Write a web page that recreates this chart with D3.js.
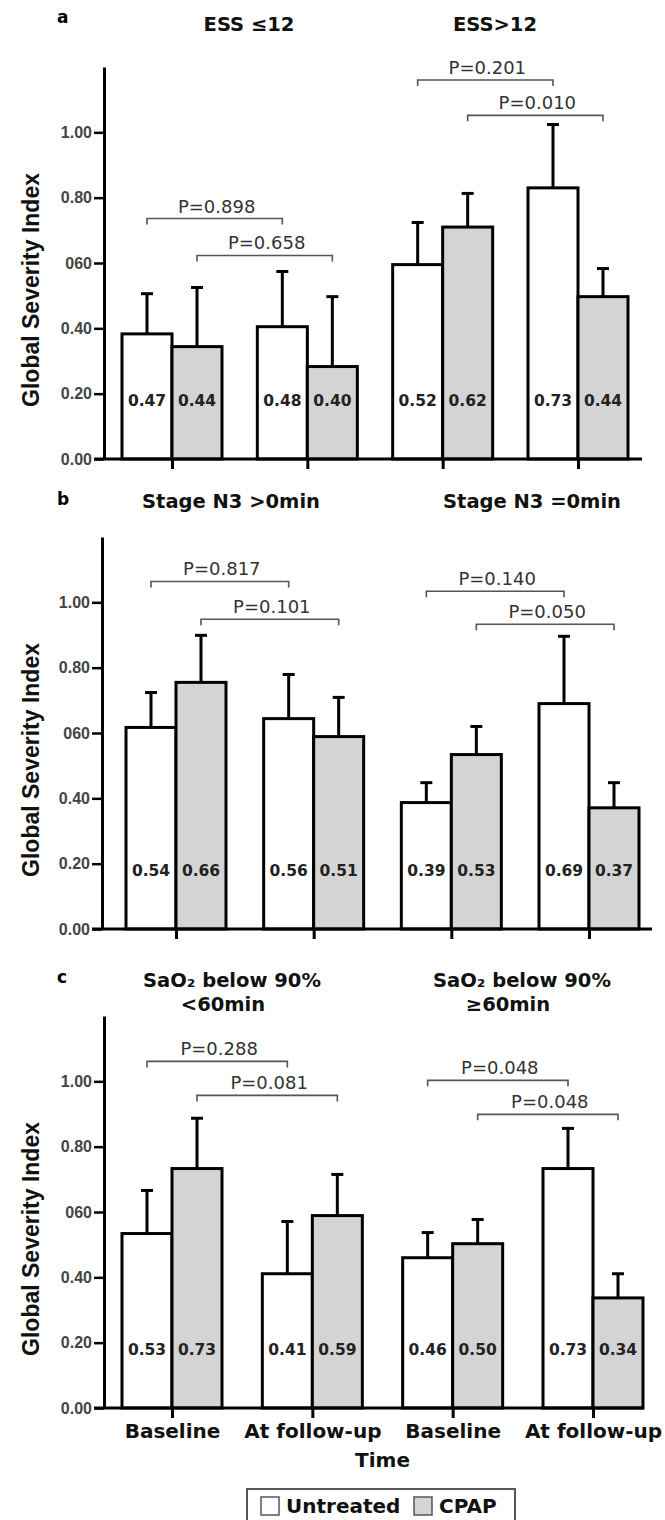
<!DOCTYPE html>
<html>
<head>
<meta charset="utf-8">
<script src="https://cdn.jsdelivr.net/npm/d3@7"></script>
<style>
  body { margin: 0; background: #fff; }
  svg { display: block; }
</style>
</head>
<body>
<svg id="chart" width="665" height="1520"></svg>
<script>
// ---- data ----
var groups = ["Baseline", "At follow-up", "Baseline", "At follow-up"];
var seriesNames = ["Untreated", "CPAP"];
var yTicks = [0, 0.2, 0.4, 0.6, 0.8, 1.0];
var yTickLabels = ["0.00", "0.20", "0.40", "060", "0.80", "1.00"];

// panel a: ESS
var titlesA = [["ESS \u226412"], ["ESS>12"]];
var untreatedA = [0.383, 0.405, 0.595, 0.830];
var untreatedErrA = [0.506, 0.574, 0.724, 1.024];
var cpapA = [0.344, 0.283, 0.710, 0.497];
var cpapErrA = [0.525, 0.497, 0.813, 0.583];
var untreatedLabelsA = ["0.47", "0.48", "0.52", "0.73"];
var cpapLabelsA = ["0.44", "0.40", "0.62", "0.44"];
var pValuesA = ["P=0.898", "P=0.658", "P=0.201", "P=0.010"];
var pLevelsA = [0.736, 0.623, 1.160, 1.052];

// panel b: stage N3
var titlesB = [["Stage N3 >0min"], ["Stage N3 =0min"]];
var untreatedB = [0.617, 0.644, 0.387, 0.690];
var untreatedErrB = [0.724, 0.779, 0.448, 0.896];
var cpapB = [0.755, 0.589, 0.534, 0.371];
var cpapErrB = [0.899, 0.709, 0.620, 0.448];
var untreatedLabelsB = ["0.54", "0.56", "0.39", "0.69"];
var cpapLabelsB = ["0.66", "0.51", "0.53", "0.37"];
var pValuesB = ["P=0.817", "P=0.101", "P=0.140", "P=0.050"];
var pLevelsB = [1.064, 0.948, 1.034, 0.933];

// panel c: SaO2 below 90%
var titlesC = [["SaO\u2082 below 90%", "<60min"], ["SaO\u2082 below 90%", "\u226560min"]];
var untreatedC = [0.534, 0.411, 0.460, 0.733];
var untreatedErrC = [0.666, 0.571, 0.537, 0.856];
var cpapC = [0.733, 0.589, 0.503, 0.337];
var cpapErrC = [0.887, 0.715, 0.577, 0.411];
var untreatedLabelsC = ["0.53", "0.41", "0.46", "0.73"];
var cpapLabelsC = ["0.73", "0.59", "0.50", "0.34"];
var pValuesC = ["P=0.288", "P=0.081", "P=0.048", "P=0.048"];
var pLevelsC = [1.061, 0.957, 1.003, 0.899];

// bracket i joins bar (group, series) -> (group, series)
var bracketEnds = [[[0, 0], [1, 0]], [[0, 1], [1, 1]], [[2, 0], [3, 0]], [[2, 1], [3, 1]]];

var panels = [
    { letter: "a", titles: titlesA, values: [untreatedA, cpapA], errors: [untreatedErrA, cpapErrA],
      labels: [untreatedLabelsA, cpapLabelsA], pValues: pValuesA, pLevels: pLevelsA },
    { letter: "b", titles: titlesB, values: [untreatedB, cpapB], errors: [untreatedErrB, cpapErrB],
      labels: [untreatedLabelsB, cpapLabelsB], pValues: pValuesB, pLevels: pLevelsB },
    { letter: "c", titles: titlesC, values: [untreatedC, cpapC], errors: [untreatedErrC, cpapErrC],
      labels: [untreatedLabelsC, cpapLabelsC], pValues: pValuesC, pLevels: pLevelsC }
];

// ---- layout ----
var layout = [
    { zeroY: 459, axisX: 104, xRange: [172, 578], axisEnd: 642, letterY: 23, titleY: 31,
      titleX: [[249], [495]] },
    { zeroY: 929, axisX: 102, xRange: [176, 589], axisEnd: 652, letterY: 505, titleY: 508,
      titleX: [[231], [532]] },
    { zeroY: 1408, axisX: 104, xRange: [172, 593], axisEnd: 644, letterY: 983, titleY: 987,
      titleX: [[232, 223], [522, 508]] }
];
var plotHeight = 392;
var barWidth = 50;
var fills = ["#ffffff", "#d4d4d4"];
var sans = "'Liberation Sans', Arial, sans-serif";
var wide = "'DejaVu Sans', Verdana, sans-serif";

var svg = d3.select("#chart");

panels.forEach(function (panel, pi) {
    var L = layout[pi];
    var g = svg.append("g");

    var y = d3.scaleLinear().domain([0, 1.2]).range([L.zeroY, L.zeroY - plotHeight]);
    var x = d3.scalePoint().domain(d3.range(groups.length)).range(L.xRange);

    function barX(gi, si) { return si === 0 ? x(gi) - barWidth : x(gi); }
    function barCenter(gi, si) { return barX(gi, si) + barWidth / 2; }

    // panel letter and titles
    g.append("text")
        .attr("x", 57).attr("y", L.letterY)
        .attr("font-family", wide).attr("font-weight", "bold").attr("font-size", 17)
        .text(panel.letter);

    panel.titles.forEach(function (lines, ti) {
        lines.forEach(function (line, li) {
            g.append("text")
                .attr("x", L.titleX[ti][li]).attr("y", L.titleY + li * 24)
                .attr("text-anchor", "middle")
                .attr("font-family", wide).attr("font-weight", "bold").attr("font-size", 19.5)
                .attr("fill", "#111")
                .text(line);
        });
    });

    // bars
    seriesNames.forEach(function (name, si) {
        g.selectAll(".bar-" + si)
            .data(panel.values[si])
            .join("rect")
            .attr("class", "bar-" + si)
            .attr("x", function (d, gi) { return barX(gi, si); })
            .attr("y", function (d) { return y(d); })
            .attr("width", barWidth)
            .attr("height", function (d) { return y(0) - y(d); })
            .attr("fill", fills[si])
            .attr("stroke", "#000")
            .attr("stroke-width", 3);
    });

    // error bars
    seriesNames.forEach(function (name, si) {
        var eb = g.selectAll(".err-" + si)
            .data(panel.errors[si])
            .join("g")
            .attr("class", "err-" + si);
        eb.append("line")
            .attr("x1", function (d, gi) { return barCenter(gi, si); })
            .attr("x2", function (d, gi) { return barCenter(gi, si); })
            .attr("y1", function (d, gi) { return y(panel.values[si][gi]); })
            .attr("y2", function (d) { return y(d); })
            .attr("stroke", "#000").attr("stroke-width", 3);
        eb.append("line")
            .attr("x1", function (d, gi) { return barCenter(gi, si) - 6; })
            .attr("x2", function (d, gi) { return barCenter(gi, si) + 6; })
            .attr("y1", function (d) { return y(d); })
            .attr("y2", function (d) { return y(d); })
            .attr("stroke", "#000").attr("stroke-width", 3);
    });

    // numbers written inside bars
    seriesNames.forEach(function (name, si) {
        g.selectAll(".lab-" + si)
            .data(panel.labels[si])
            .join("text")
            .attr("class", "lab-" + si)
            .attr("x", function (d, gi) { return barCenter(gi, si); })
            .attr("y", y(0.163))
            .attr("text-anchor", "middle")
            .attr("font-family", wide)
            .attr("font-weight", "bold").attr("font-size", 15.5)
            .attr("fill", "#222")
            .text(function (d) { return d; });
    });

    // p-value brackets
    panel.pValues.forEach(function (p, bi) {
        var a = bracketEnds[bi][0], b = bracketEnds[bi][1];
        var x1 = barCenter(a[0], a[1]), x2 = barCenter(b[0], b[1]);
        var by = y(panel.pLevels[bi]);
        g.append("path")
            .attr("d", "M" + x1 + "," + (by + 6) + "V" + by + "H" + x2 + "V" + (by + 6))
            .attr("fill", "none").attr("stroke", "#555").attr("stroke-width", 1.6);
        g.append("text")
            .attr("x", (x1 + x2) / 2 + 2).attr("y", by - 6)
            .attr("text-anchor", "middle")
            .attr("font-family", wide).attr("font-size", 18)
            .attr("fill", "#333")
            .text(p);
    });

    // y axis
    var yAxis = g.append("g")
        .attr("transform", "translate(" + L.axisX + ",0)")
        .call(d3.axisLeft(y)
            .tickValues(yTicks)
            .tickFormat(function (d, i) { return yTickLabels[i]; })
            .tickSize(10).tickSizeOuter(0).tickPadding(2));
    yAxis.select(".domain").attr("stroke", "#000").attr("stroke-width", 3);
    yAxis.selectAll(".tick line").attr("stroke", "#000").attr("stroke-width", 2.5);
    yAxis.selectAll(".tick text")
        .attr("font-family", sans).attr("font-weight", "bold").attr("font-size", 16)
        .attr("fill", "#444");

    // x axis
    g.append("line")
        .attr("x1", L.axisX - 10).attr("x2", L.axisEnd)
        .attr("y1", y(0)).attr("y2", y(0))
        .attr("stroke", "#000").attr("stroke-width", 3);
    var xAxis = g.append("g")
        .attr("transform", "translate(0," + y(0) + ")")
        .call(d3.axisBottom(x)
            .tickSize(10).tickSizeOuter(0).tickPadding(6)
            .tickFormat(function (d) { return pi === 2 ? groups[d] : ""; }));
    xAxis.select(".domain").remove();
    xAxis.selectAll(".tick line").attr("stroke", "#000").attr("stroke-width", 3);
    xAxis.selectAll(".tick text")
        .attr("font-family", wide).attr("font-weight", "bold").attr("font-size", 20)
        .attr("fill", "#111");

    // y label
    var cy = (y(0) + y(1.2)) / 2 + 27;
    g.append("text")
        .attr("transform", "translate(39," + cy + ") rotate(-90)")
        .attr("text-anchor", "middle")
        .attr("font-family", sans).attr("font-weight", "bold").attr("font-size", 23)
        .attr("fill", "#111")
        .text("Global Severity Index");

    if (pi === 2) {
        g.append("text")
            .attr("x", (x(1) + x(2)) / 2).attr("y", 1467)
            .attr("text-anchor", "middle")
            .attr("font-family", wide).attr("font-weight", "bold").attr("font-size", 20)
            .attr("fill", "#111")
            .text("Time");
    }
});

// legend
var legend = svg.append("g");
legend.append("rect")
    .attr("x", 247).attr("y", 1489).attr("width", 268).attr("height", 34)
    .attr("fill", "#fff").attr("stroke", "#555").attr("stroke-width", 2);
var legendX = [261, 414];
seriesNames.forEach(function (name, si) {
    legend.append("rect")
        .attr("x", legendX[si]).attr("y", 1497).attr("width", 18).attr("height", 18)
        .attr("fill", fills[si]).attr("stroke", "#555").attr("stroke-width", 1.5);
    legend.append("text")
        .attr("x", legendX[si] + 25).attr("y", 1513)
        .attr("font-family", wide).attr("font-weight", "bold").attr("font-size", 20)
        .attr("fill", "#111")
        .text(name);
});
</script>
</body>
</html>
